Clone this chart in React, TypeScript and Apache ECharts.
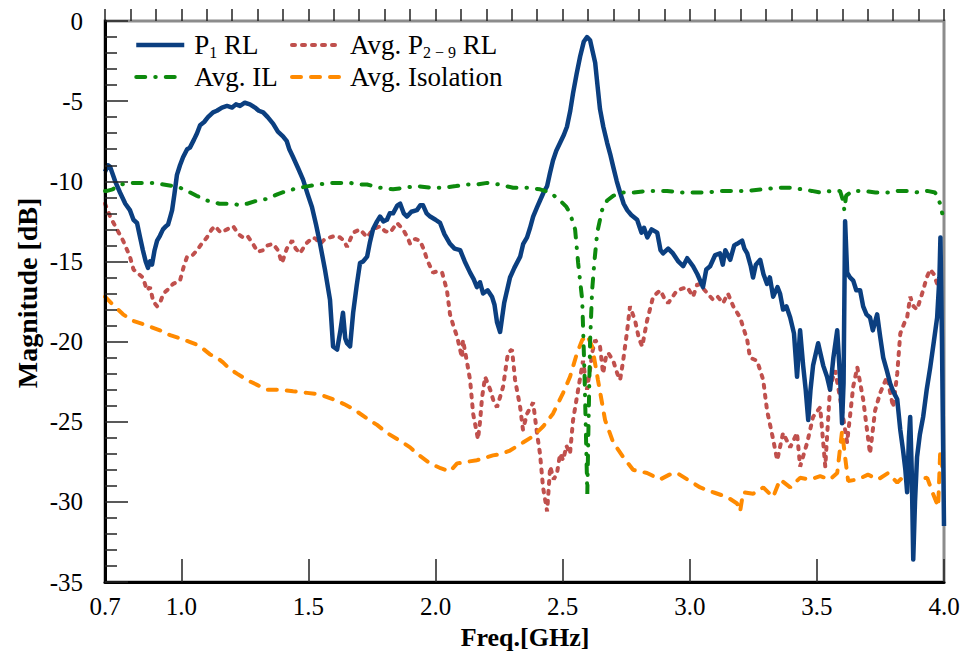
import React, { useEffect, useRef } from "react";
import * as echarts from "echarts";

const xLabelValues = [0.7, 1.0, 1.5, 2.0, 2.5, 3.0, 3.5, 4.0];
const xMajorTicks = [1.0, 1.5, 2.0, 2.5, 3.0, 3.5, 4.0];

const seriesNames = ["P1 RL", "Avg. P2-9 RL", "Avg. IL", "Avg. Isolation"];

const p1RL: [number, number][] = [
  [0.700,-9.4],[0.712,-9.0],[0.720,-9.1],[0.740,-10.0],[0.759,-10.7],[0.780,-11.4],[0.798,-11.8],[0.812,-12.4],[0.826,-12.6],[0.838,-13.5],[0.849,-14.3],[0.860,-15.0],[0.869,-15.4],[0.877,-15.0],[0.885,-15.2],[0.895,-14.3],[0.905,-13.7],[0.916,-13.4],[0.928,-13.0],[0.940,-12.8],[0.948,-12.7],[0.957,-12.2],[0.964,-11.8],[0.973,-10.8],[0.983,-9.6],[0.995,-9.0],[1.007,-8.5],[1.023,-8.0],[1.034,-7.9],[1.050,-7.4],[1.062,-7.0],[1.074,-6.5],[1.090,-6.3],[1.105,-6.0],[1.125,-5.7],[1.140,-5.6],[1.160,-5.4],[1.180,-5.3],[1.200,-5.4],[1.215,-5.2],[1.231,-5.3],[1.250,-5.1],[1.270,-5.2],[1.290,-5.4],[1.305,-5.6],[1.322,-5.7],[1.340,-6.0],[1.361,-6.4],[1.380,-6.9],[1.400,-7.2],[1.415,-7.5],[1.425,-8.0],[1.440,-8.5],[1.460,-9.2],[1.479,-9.9],[1.497,-10.8],[1.514,-11.6],[1.530,-12.7],[1.546,-13.9],[1.565,-15.5],[1.585,-17.4],[1.597,-20.3],[1.613,-20.5],[1.625,-19.4],[1.636,-18.2],[1.645,-19.8],[1.652,-20.1],[1.664,-20.3],[1.676,-18.2],[1.690,-16.5],[1.703,-15.1],[1.715,-15.0],[1.731,-14.7],[1.742,-13.8],[1.754,-13.0],[1.770,-12.5],[1.782,-12.2],[1.795,-12.5],[1.809,-12.4],[1.820,-12.0],[1.833,-12.0],[1.850,-11.5],[1.861,-11.4],[1.875,-12.0],[1.888,-12.2],[1.905,-11.9],[1.927,-11.8],[1.940,-11.5],[1.951,-11.5],[1.965,-12.0],[1.979,-12.2],[2.000,-12.4],[2.018,-12.6],[2.035,-13.3],[2.057,-13.9],[2.075,-14.2],[2.097,-14.3],[2.115,-15.0],[2.136,-15.7],[2.150,-16.1],[2.163,-16.6],[2.175,-16.3],[2.187,-17.0],[2.205,-16.8],[2.222,-17.2],[2.232,-17.7],[2.242,-18.8],[2.254,-19.4],[2.262,-18.5],[2.270,-17.6],[2.293,-16.0],[2.310,-15.4],[2.333,-14.7],[2.345,-13.9],[2.360,-13.5],[2.372,-12.9],[2.384,-12.2],[2.400,-11.6],[2.411,-11.2],[2.425,-10.7],[2.439,-10.3],[2.450,-9.5],[2.462,-8.7],[2.475,-8.1],[2.490,-7.6],[2.505,-7.1],[2.517,-6.6],[2.530,-5.6],[2.541,-4.5],[2.555,-3.3],[2.569,-2.2],[2.583,-1.3],[2.596,-1.0],[2.608,-1.2],[2.618,-1.9],[2.628,-2.6],[2.637,-4.0],[2.647,-5.5],[2.660,-6.6],[2.675,-7.6],[2.687,-8.3],[2.699,-9.1],[2.713,-10.0],[2.726,-10.7],[2.740,-11.4],[2.754,-11.8],[2.770,-12.1],[2.793,-12.4],[2.810,-13.2],[2.820,-12.9],[2.833,-13.5],[2.850,-13.0],[2.872,-13.2],[2.885,-14.3],[2.895,-14.5],[2.915,-14.2],[2.934,-14.5],[2.955,-15.0],[2.974,-15.3],[2.990,-14.8],[3.013,-15.3],[3.030,-15.8],[3.052,-16.6],[3.065,-15.5],[3.080,-15.3],[3.100,-14.6],[3.119,-14.5],[3.130,-15.2],[3.140,-14.3],[3.159,-14.9],[3.175,-14.0],[3.186,-13.9],[3.206,-13.7],[3.215,-14.2],[3.226,-14.5],[3.240,-15.3],[3.249,-16.0],[3.260,-15.2],[3.277,-14.9],[3.290,-15.8],[3.304,-16.4],[3.315,-16.0],[3.328,-17.2],[3.345,-16.6],[3.355,-17.0],[3.367,-18.0],[3.380,-17.8],[3.395,-18.5],[3.410,-19.5],[3.422,-22.2],[3.434,-19.3],[3.446,-21.5],[3.456,-23.0],[3.466,-24.9],[3.475,-23.0],[3.485,-21.5],[3.505,-20.1],[3.515,-20.8],[3.525,-21.5],[3.540,-22.2],[3.552,-23.0],[3.565,-21.0],[3.580,-19.3],[3.592,-22.5],[3.599,-25.1],[3.605,-22.6],[3.611,-12.5],[3.619,-15.7],[3.630,-16.0],[3.643,-16.2],[3.655,-16.8],[3.670,-16.8],[3.682,-17.8],[3.695,-18.3],[3.709,-18.5],[3.720,-19.3],[3.737,-18.3],[3.749,-19.7],[3.761,-21.0],[3.775,-21.8],[3.788,-22.6],[3.800,-23.1],[3.816,-23.6],[3.828,-25.5],[3.839,-26.8],[3.848,-28.0],[3.855,-29.4],[3.862,-26.0],[3.867,-24.7],[3.873,-28.0],[3.879,-33.6],[3.886,-30.0],[3.894,-27.2],[3.905,-25.8],[3.918,-24.7],[3.932,-23.0],[3.946,-21.6],[3.960,-20.0],[3.973,-18.5],[3.982,-16.0],[3.986,-13.5],[3.992,-20.0],[4.000,-31.5]
];

const avgP29RL: [number, number][] = [
  [0.700,-11.4],[0.720,-12.2],[0.747,-13.0],[0.771,-13.7],[0.798,-14.7],[0.812,-15.5],[0.826,-15.7],[0.849,-16.0],[0.865,-16.8],[0.877,-16.6],[0.890,-17.5],[0.905,-17.8],[0.916,-17.6],[0.930,-17.0],[0.944,-16.8],[0.968,-16.4],[0.995,-16.2],[1.010,-15.3],[1.023,-14.7],[1.045,-14.6],[1.062,-14.3],[1.080,-13.9],[1.101,-13.5],[1.120,-13.0],[1.133,-12.8],[1.155,-13.2],[1.180,-13.0],[1.204,-12.8],[1.225,-13.3],[1.243,-13.5],[1.260,-13.4],[1.282,-13.9],[1.300,-14.4],[1.322,-14.3],[1.340,-14.0],[1.361,-13.9],[1.380,-14.3],[1.396,-15.1],[1.415,-14.2],[1.436,-13.7],[1.450,-14.2],[1.467,-14.5],[1.490,-13.9],[1.518,-13.5],[1.530,-13.6],[1.546,-13.9],[1.565,-13.6],[1.585,-13.5],[1.605,-13.4],[1.624,-13.5],[1.640,-13.7],[1.652,-14.1],[1.676,-13.2],[1.703,-13.0],[1.731,-13.5],[1.754,-13.0],[1.782,-12.8],[1.800,-13.1],[1.821,-13.2],[1.849,-12.6],[1.872,-13.0],[1.890,-13.5],[1.900,-13.9],[1.920,-13.6],[1.939,-13.7],[1.955,-14.3],[1.967,-14.9],[1.990,-15.7],[2.010,-15.6],[2.026,-15.7],[2.045,-16.8],[2.057,-18.3],[2.070,-19.0],[2.085,-19.7],[2.104,-21.0],[2.108,-19.9],[2.124,-21.3],[2.136,-22.4],[2.148,-24.5],[2.160,-25.5],[2.167,-26.1],[2.175,-25.0],[2.183,-23.5],[2.195,-22.2],[2.205,-22.6],[2.215,-23.0],[2.230,-23.8],[2.242,-24.1],[2.255,-23.4],[2.266,-22.8],[2.285,-20.7],[2.301,-20.5],[2.313,-22.4],[2.333,-24.1],[2.344,-25.5],[2.360,-24.5],[2.384,-23.8],[2.399,-25.7],[2.411,-27.0],[2.423,-29.1],[2.439,-30.6],[2.451,-27.8],[2.465,-28.6],[2.478,-28.2],[2.490,-27.0],[2.502,-27.4],[2.515,-26.5],[2.529,-27.0],[2.541,-24.9],[2.561,-23.0],[2.580,-21.2],[2.596,-23.0],[2.610,-21.5],[2.616,-20.7],[2.628,-19.9],[2.647,-20.3],[2.659,-22.0],[2.670,-21.0],[2.679,-20.7],[2.699,-21.2],[2.715,-22.0],[2.726,-22.4],[2.738,-21.2],[2.754,-19.3],[2.765,-17.8],[2.785,-18.7],[2.800,-19.8],[2.813,-20.3],[2.832,-18.7],[2.856,-17.2],[2.884,-16.8],[2.900,-17.3],[2.915,-17.6],[2.950,-16.8],[2.990,-16.6],[3.013,-17.2],[3.030,-16.4],[3.048,-16.6],[3.070,-17.0],[3.092,-17.4],[3.110,-17.2],[3.131,-17.6],[3.150,-17.0],[3.171,-17.8],[3.198,-18.5],[3.226,-19.9],[3.237,-21.0],[3.265,-21.2],[3.289,-22.4],[3.304,-24.3],[3.328,-26.1],[3.344,-27.4],[3.367,-25.7],[3.395,-26.6],[3.422,-25.7],[3.434,-27.8],[3.462,-26.3],[3.485,-24.7],[3.513,-24.1],[3.533,-27.8],[3.552,-22.8],[3.572,-21.8],[3.592,-23.6],[3.619,-26.3],[3.643,-22.8],[3.659,-21.6],[3.682,-23.6],[3.709,-27.0],[3.729,-24.3],[3.749,-23.2],[3.776,-22.2],[3.800,-24.1],[3.816,-22.0],[3.828,-19.5],[3.845,-18.8],[3.855,-18.5],[3.867,-17.2],[3.880,-17.8],[3.894,-18.0],[3.910,-17.2],[3.918,-16.8],[3.932,-16.0],[3.946,-15.5],[3.960,-15.8],[3.973,-16.4],[3.993,-17.2]
];

const avgIL: [number, number][] = [
  [0.700,-10.6],[0.708,-10.6],[0.730,-10.5],[0.760,-10.2],[0.810,-10.1],[0.850,-10.1],[0.889,-10.1],[0.930,-10.2],[0.968,-10.3],[0.995,-10.4],[1.023,-10.6],[1.060,-10.9],[1.101,-11.2],[1.150,-11.4],[1.204,-11.4],[1.230,-11.5],[1.259,-11.4],[1.300,-11.2],[1.337,-11.1],[1.380,-10.8],[1.416,-10.6],[1.440,-10.5],[1.467,-10.4],[1.500,-10.3],[1.534,-10.2],[1.600,-10.1],[1.664,-10.1],[1.700,-10.2],[1.731,-10.2],[1.780,-10.4],[1.833,-10.5],[1.880,-10.4],[1.927,-10.3],[1.980,-10.4],[2.030,-10.4],[2.080,-10.3],[2.120,-10.2],[2.163,-10.2],[2.203,-10.1],[2.250,-10.2],[2.305,-10.4],[2.360,-10.4],[2.411,-10.5],[2.451,-10.7],[2.490,-11.2],[2.515,-11.6],[2.529,-12.0],[2.549,-13.0],[2.561,-15.1],[2.577,-17.4],[2.586,-22.0],[2.592,-26.0],[2.597,-29.5],[2.602,-25.0],[2.608,-20.0],[2.616,-16.8],[2.625,-15.0],[2.636,-13.2],[2.655,-11.8],[2.675,-11.2],[2.700,-10.9],[2.726,-10.7],[2.780,-10.7],[2.832,-10.6],[2.870,-10.6],[2.911,-10.6],[2.960,-10.7],[3.000,-10.7],[3.068,-10.7],[3.120,-10.6],[3.180,-10.6],[3.226,-10.6],[3.290,-10.5],[3.350,-10.4],[3.395,-10.4],[3.440,-10.5],[3.480,-10.6],[3.513,-10.7],[3.560,-10.6],[3.591,-10.6],[3.603,-11.2],[3.608,-11.8],[3.615,-10.9],[3.640,-10.6],[3.682,-10.6],[3.730,-10.7],[3.780,-10.7],[3.820,-10.6],[3.855,-10.6],[3.900,-10.7],[3.934,-10.6],[3.965,-10.7],[3.985,-11.4],[3.993,-12.0]
];

const avgIsolation: [number, number][] = [
  [0.700,-17.2],[0.731,-17.7],[0.771,-18.3],[0.810,-18.7],[0.865,-19.0],[0.916,-19.3],[0.956,-19.6],[0.995,-19.8],[1.030,-20.0],[1.062,-20.2],[1.090,-20.5],[1.113,-20.8],[1.140,-21.0],[1.164,-21.3],[1.190,-21.7],[1.219,-22.0],[1.259,-22.4],[1.298,-22.7],[1.337,-23.0],[1.388,-23.0],[1.440,-23.1],[1.495,-23.2],[1.546,-23.3],[1.597,-23.6],[1.640,-23.9],[1.676,-24.2],[1.731,-24.8],[1.770,-25.2],[1.809,-25.7],[1.861,-26.2],[1.900,-26.6],[1.927,-27.0],[1.979,-27.6],[2.020,-27.9],[2.057,-28.1],[2.085,-27.6],[2.124,-27.5],[2.163,-27.4],[2.226,-27.1],[2.260,-27.0],[2.293,-26.8],[2.344,-26.3],[2.384,-25.9],[2.423,-25.3],[2.462,-24.5],[2.502,-23.2],[2.529,-22.2],[2.557,-20.7],[2.577,-19.9],[2.596,-19.6],[2.616,-20.3],[2.639,-22.4],[2.667,-24.9],[2.699,-26.3],[2.738,-27.2],[2.777,-28.0],[2.832,-28.2],[2.884,-28.6],[2.920,-28.3],[2.950,-28.2],[2.990,-28.6],[3.041,-29.1],[3.092,-29.4],[3.147,-29.7],[3.186,-30.1],[3.198,-30.6],[3.210,-29.4],[3.249,-29.5],[3.289,-29.1],[3.328,-29.7],[3.355,-28.6],[3.395,-29.1],[3.434,-28.5],[3.473,-28.6],[3.513,-28.4],[3.552,-28.6],[3.580,-28.2],[3.599,-25.6],[3.611,-27.2],[3.623,-28.7],[3.662,-28.6],[3.701,-28.3],[3.741,-28.6],[3.780,-28.2],[3.816,-28.8],[3.855,-28.2],[3.894,-28.6],[3.934,-28.5],[3.957,-29.5],[3.977,-30.3],[3.985,-26.9],[3.993,-27.8]
];

const FONT = "'Liberation Serif', 'Times New Roman', serif";

export default function App() {
  const ref = useRef<HTMLDivElement>(null);

  useEffect(() => {
    if (!ref.current) return;
    const chart = echarts.init(ref.current, null, { renderer: "svg" });

    const legendFormatter = (name: string) => {
      if (name === seriesNames[0]) return "{b|P}{s|1}{a| RL}";
      if (name === seriesNames[1]) return "{b|Avg. P}{s|2 − 9}{a| RL}";
      return "{b|" + name + "}";
    };
    const legendText = {
      color: "#000",
      fontFamily: FONT,
      fontSize: 27,
      lineHeight: 30,
      rich: {
        a: { fontFamily: FONT, fontSize: 27, lineHeight: 30, color: "#000" },
        b: { fontFamily: FONT, fontSize: 27, lineHeight: 30, color: "#000", padding: [0, 0, 0, 5] },
        s: { fontFamily: FONT, fontSize: 16, lineHeight: 20, verticalAlign: "bottom", color: "#000" },
      },
    };

    const tickStyle = { color: "#222", width: 1.5 };

    const legendBase = {
      orient: "vertical",
      top: 25,
      itemWidth: 48,
      itemHeight: 14,
      itemGap: 2,
      formatter: legendFormatter,
      textStyle: legendText,
      selectedMode: false,
      itemStyle: { opacity: 0 },
      lineStyle: { width: "inherit" },
    };

    chart.setOption({
      animation: false,
      backgroundColor: "#fff",
      grid: {
        left: 105,
        top: 21,
        right: 22,
        bottom: 73,
        show: true,
        borderColor: "#8c8c8c",
        borderWidth: 3,
        containLabel: false,
      },
      legend: [
        { ...legendBase, data: [seriesNames[0], seriesNames[2]], left: 129 },
        { ...legendBase, data: [seriesNames[1], seriesNames[3]], left: 285 },
      ],
      xAxis: [
        {
          type: "value",
          min: 0.7,
          max: 4.0,
          position: "bottom",
          axisLine: { show: true, onZero: false, lineStyle: { color: "#000", width: 3 } },
          axisTick: { show: true, inside: true, length: 23, lineStyle: tickStyle, customValues: xMajorTicks },
          axisLabel: {
            show: true,
            customValues: xLabelValues,
            formatter: (v: number) => v.toFixed(1),
            color: "#000",
            fontFamily: FONT,
            fontSize: 25,
            margin: 12,
          },
          splitLine: { show: false },
          z: 5,
        },
        {
          type: "value",
          min: 0.7,
          max: 4.0,
          interval: 0.1,
          position: "bottom",
          axisLine: { show: false },
          axisTick: { show: true, inside: true, length: 12, lineStyle: tickStyle },
          axisLabel: { show: false },
          splitLine: { show: false },
          z: 4,
        },
      ],
      yAxis: {
        type: "value",
        min: -35,
        max: 0,
        interval: 5,
        axisLine: { show: true, onZero: false, lineStyle: { color: "#000", width: 3 } },
        axisTick: { show: true, inside: true, length: 23, lineStyle: tickStyle },
        minorTick: { show: true, splitNumber: 5, length: 12, lineStyle: tickStyle },
        axisLabel: { color: "#000", fontFamily: FONT, fontSize: 25, margin: 22 },
        splitLine: { show: false },
        minorSplitLine: { show: false },
        z: 5,
      },
      graphic: [
        {
          type: "text",
          x: 27,
          y: 293,
          rotation: Math.PI / 2,
          style: {
            text: "Magnitude [dB]",
            fontFamily: FONT,
            fontWeight: "bold",
            fontSize: 28,
            fill: "#000",
            align: "center",
            verticalAlign: "middle",
          },
        },
        {
          type: "text",
          x: 525,
          y: 637,
          style: {
            text: "Freq.[GHz]",
            fontFamily: FONT,
            fontWeight: "bold",
            fontSize: 26,
            fill: "#000",
            align: "center",
            verticalAlign: "middle",
          },
        },
      ],
      series: [
        {
          name: seriesNames[1],
          type: "line",
          data: avgP29RL,
          symbol: "none",
          showSymbol: false,
          z: 2,
          color: "#c0504d",
          lineStyle: { color: "#c0504d", width: 4, type: [3, 7], cap: "round" },
        },
        {
          name: seriesNames[3],
          type: "line",
          data: avgIsolation,
          symbol: "none",
          showSymbol: false,
          z: 3,
          color: "#ff8a00",
          lineStyle: { color: "#ff8a00", width: 4, type: [9, 10], cap: "round" },
        },
        {
          name: seriesNames[0],
          type: "line",
          data: p1RL,
          symbol: "none",
          showSymbol: false,
          z: 4,
          color: "#0b3f80",
          lineStyle: { color: "#0b3f80", width: 4.5, type: "solid", join: "round" },
        },
        {
          name: seriesNames[2],
          type: "line",
          data: avgIL,
          symbol: "none",
          showSymbol: false,
          z: 5,
          color: "#0d8a0d",
          lineStyle: { color: "#0d8a0d", width: 4, type: [9, 10, 0.5, 10], cap: "round" },
        },
      ],
    });

    return () => {
      chart.dispose();
    };
  }, []);

  return (
    <div
      ref={ref}
      style={{ position: "fixed", left: 0, top: 0, width: 966, height: 655, background: "#fff" }}
    />
  );
}
